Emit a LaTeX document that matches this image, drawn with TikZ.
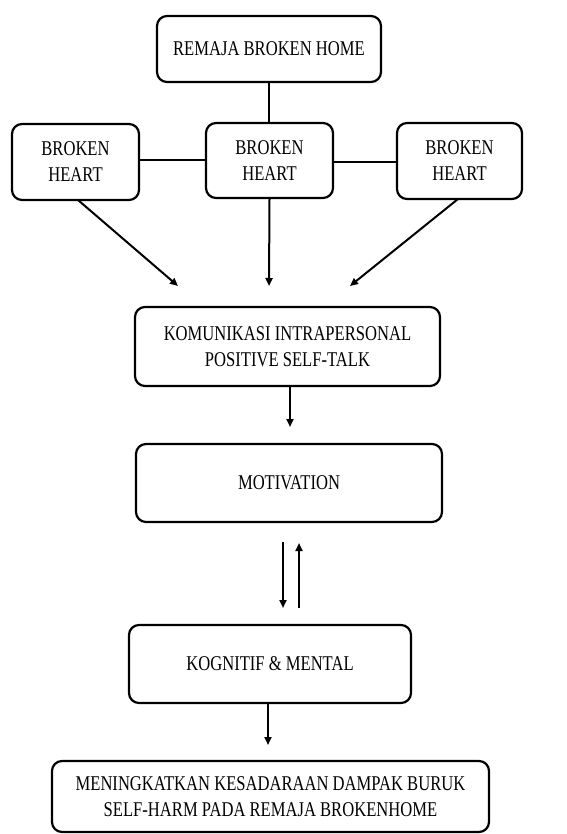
\documentclass[tikz,border=0pt]{standalone}
\usepackage{fontspec}
\setmainfont{Liberation Serif}[FakeStretch=0.79]
\usetikzlibrary{arrows.meta}
\begin{document}
\begin{tikzpicture}[x=1pt,y=-1pt,
  box/.style={draw, line width=2.2pt, rounded corners=10pt, align=center, inner sep=0pt,
    font=\fontsize{21}{26}\selectfont},
  conn/.style={line width=2pt},
  arr/.style={line width=2pt, -{Triangle[length=8pt,width=7pt]}}]
\useasboundingbox (0,0) rectangle (566,834);
\node[box, minimum width=224pt, minimum height=66pt] (top) at (269,49) {REMAJA BROKEN HOME};
\node[box, minimum width=127pt, minimum height=76pt] (bhl) at (75.5,162) {BROKEN\\HEART};
\node[box, minimum width=127pt, minimum height=75pt] (bhm) at (269.5,160.5) {BROKEN\\HEART};
\node[box, minimum width=125pt, minimum height=76pt] (bhr) at (459.5,161) {BROKEN\\HEART};
\node[box, minimum width=305pt, minimum height=79pt] (kom) at (287.5,346.5) {KOMUNIKASI INTRAPERSONAL\\POSITIVE SELF-TALK};
\node[box, minimum width=306pt, minimum height=78pt] (mot) at (289,483) {MOTIVATION};
\node[box, minimum width=282pt, minimum height=78pt] (kog) at (270,664) {KOGNITIF \& MENTAL};
\node[box, minimum width=437pt, minimum height=71pt] (fin) at (270.5,796.5) {MENINGKATKAN KESADARAAN DAMPAK BURUK\\SELF-HARM PADA REMAJA BROKENHOME};

\coordinate (al) at (178,286);
\coordinate (am) at (269,286);
\coordinate (ar) at (350,286);
\coordinate (ak) at (290,427);
\coordinate (dtop) at (283,542);
\coordinate (dbot) at (283,608);
\coordinate (utop) at (299,543);
\coordinate (ubot) at (299,608);
\coordinate (ag) at (268,745);
\coordinate (lfoot) at (78,200);
\coordinate (rfoot) at (458,199);
\coordinate (kfoot) at (290,386);
\coordinate (gfoot) at (268,703);

\draw[conn] (top.south) -- (top.south |- bhm.north);
\draw[conn] (bhm.west |- 0,160) -- (bhl.east |- 0,160);
\draw[conn] (bhm.east |- 0,162) -- (bhr.west |- 0,162);
\draw[arr] (lfoot) -- (al);
\draw[arr] (bhm.south) -- (am);
\draw[arr] (rfoot) -- (ar);
\draw[arr] (kfoot) -- (ak);
\draw[arr] (dtop) -- (dbot);
\draw[arr] (ubot) -- (utop);
\draw[arr] (gfoot) -- (ag);
\end{tikzpicture}
\end{document}
